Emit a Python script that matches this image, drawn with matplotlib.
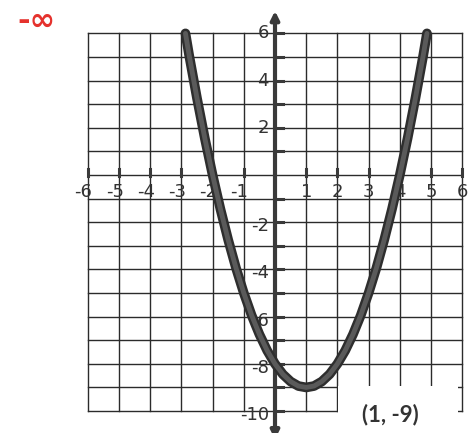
import numpy as np
import matplotlib.pyplot as plt
from matplotlib.patches import Rectangle

# points (quarter-unit steps)
curve_x = [-2.87, -2.75, -2.5, -2.25, -2, -1.75, -1.5, -1.25, -1, -0.75, -0.5, -0.25,
           0, 0.25, 0.5, 0.75, 1, 1.25, 1.5, 1.75, 2, 2.25, 2.5, 2.75,
           3, 3.25, 3.5, 3.75, 4, 4.25, 4.5, 4.75, 4.87]
curve_y = [6, 5.06, 3.25, 1.56, 0, -1.44, -2.75, -3.94, -5, -5.94, -6.75, -7.44,
           -8, -8.44, -8.75, -8.94, -9, -8.94, -8.75, -8.44, -8, -7.44, -6.75, -5.94,
           -5, -3.94, -2.75, -1.44, 0, 1.56, 3.25, 5.06, 6]

x_ticks = [-6, -5, -4, -3, -2, -1, 1, 2, 3, 4, 5, 6]
y_ticks = [6, 4, 2, -2, -4, -6, -8, -10]
grid_x = list(range(-6, 7))
grid_y = list(range(-10, 7))

vertex_label = "(1, -9)"
note_text = "-\u221e"

fig = plt.figure(figsize=(4.75, 4.33), dpi=100)
ax = fig.add_axes([0, 0, 1, 1])
ax.set_xlim(-8.814, 6.41)
ax.set_ylim(-10.93, 7.415)
ax.axis('off')

gcol = '#2b2b2b'
for gx in grid_x:
    ax.plot([gx, gx], [-10, 6], color=gcol, lw=1.0, zorder=1)
for gy in grid_y:
    ax.plot([-6, 6], [gy, gy], color=gcol, lw=1.0, zorder=1)

# white patch behind the vertex note
ax.add_patch(Rectangle((2.03, -11.5), 3.85, 2.55, facecolor='white', edgecolor='none', zorder=1.5))

# axes with arrows
acol = '#3a3a3a'
ax.annotate('', xy=(6.6, 0), xytext=(-6.65, 0),
            arrowprops=dict(arrowstyle='<|-|>', lw=3, color=acol, mutation_scale=12, shrinkA=0, shrinkB=0), zorder=3)
ax.annotate('', xy=(0, 6.95), xytext=(0, -11.2),
            arrowprops=dict(arrowstyle='<|-|>', lw=3, color=acol, mutation_scale=12, shrinkA=0, shrinkB=0), zorder=3)

# small tick marks
for gx in grid_x:
    if gx != 0:
        ax.plot([gx, gx], [-0.05, 0.27], color=acol, lw=2.2, zorder=3)
for gy in grid_y:
    if gy != 0:
        ax.plot([0, 0.27], [gy, gy], color=acol, lw=2.2, zorder=3)

lab_font = dict(family=['Liberation Sans Narrow', 'DejaVu Sans'], fontsize=13, color='#333333')
for v in x_ticks:
    if v < 0:
        ax.text(v + 0.15, -0.33, str(v), ha='right', va='top', zorder=2, **lab_font)
    else:
        ax.text(v, -0.33, str(v), ha='center', va='top', zorder=2, **lab_font)
for v in y_ticks:
    off = -0.17 if v < 0 else 0
    ax.text(-0.2, v + off, str(v), ha='right', va='center', zorder=2, **lab_font)

# parabola
ax.plot(curve_x, curve_y, color='#2e2e2e', lw=7, solid_capstyle='round', solid_joinstyle='round', zorder=4)
ax.plot(curve_x, curve_y, color='#5a5a5a', lw=3.5, solid_capstyle='round', solid_joinstyle='round', zorder=4)

ax.text(3.69, -10.15, vertex_label, ha='center', va='center', fontsize=16,
        fontweight='bold', family=['Lato', 'DejaVu Sans'], color='#333333', zorder=6)
ax.text(-7.66, 6.5, note_text, ha='center', va='center', fontsize=22,
        fontweight='bold', color='#e5322d', zorder=6)

fig.savefig('out.png', dpi=100)
